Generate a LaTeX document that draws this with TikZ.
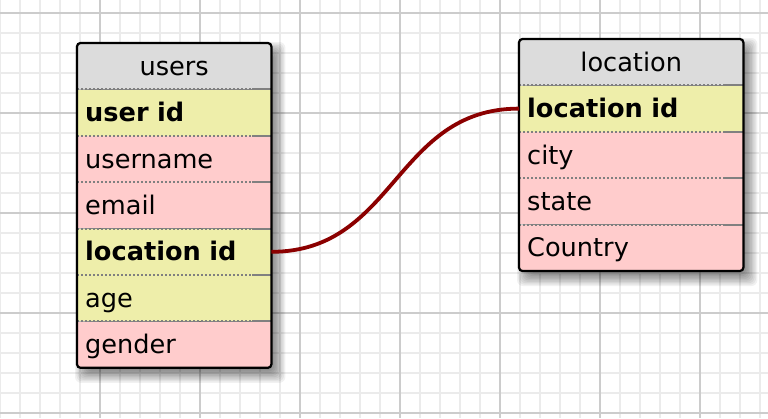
\documentclass[tikz,border=0pt]{standalone}
\usepackage{fontspec}
\setmainfont{DejaVu Sans}
\usetikzlibrary{positioning,backgrounds}
\definecolor{hdrgray}{RGB}{220,220,220}
\definecolor{keyyellow}{RGB}{238,238,170}
\definecolor{fieldpink}{RGB}{255,204,204}
\definecolor{fkred}{RGB}{139,0,0}
\begin{document}
\begin{tikzpicture}[x=1pt,y=-1pt,node distance=0pt,
	cell/.style={rectangle,inner sep=0pt,inner xsep=8pt,text height=32pt,text depth=14pt,font=\fontsize{25.6}{30}\selectfont},
	uwide/.style={text width=178pt},
	lwide/.style={text width=208pt},
	hdr/.style={cell,fill=hdrgray,align=center},
	keyrow/.style={cell,fill=keyyellow,align=left,font=\fontsize{25.6}{30}\selectfont\bfseries},
	fieldrow/.style={cell,fill=fieldpink,align=left},
	dotsep/.style={draw=black!50,line width=2pt,dash pattern=on 2pt off 2pt},
	dashend/.style={draw=black!50,line width=2pt},
	tblborder/.style={draw=black,line width=2.2pt,rounded corners=3.5pt},
	shadowstep/.style={fill=black,opacity=0.055,rounded corners=6pt},
	minorgrid/.style={draw=black!8,line width=2pt},
	majorgrid/.style={draw=black!20,line width=2pt},
	fklink/.style={draw=fkred,line width=3.8pt}]
	\useasboundingbox (0,0) rectangle (768,418);
	\node[hdr,uwide,anchor=north west] (uhead) at (77,43) {users};
	\node[keyrow,uwide,below=of uhead] (uid) {user id};
	\node[fieldrow,uwide,below=of uid] (uname) {username};
	\node[fieldrow,uwide,below=of uname] (uemail) {email};
	\node[keyrow,uwide,below=of uemail] (uloc) {location id};
	\node[keyrow,uwide,below=of uloc,font=\fontsize{25.6}{30}\selectfont] (uage) {age};
	\node[fieldrow,uwide,below=of uage] (ugender) {gender};
	\node[hdr,lwide,anchor=north west] (lhead) at (519,39) {location};
	\node[keyrow,lwide,below=of lhead] (lid) {location id};
	\node[fieldrow,lwide,below=of lid] (lcity) {city};
	\node[fieldrow,lwide,below=of lcity] (lstate) {state};
	\node[fieldrow,lwide,below=of lstate] (lcountry) {Country};
	\begin{scope}[on background layer]
		\fill[white] (0,0) rectangle (768,418);
		\foreach \g in {-0.5,19.5,...,760} \draw[minorgrid] (\g,0) -- (\g,418);
		\foreach \g in {-7.3,12.7,...,418} \draw[minorgrid] (0,\g) -- (768,\g);
		\foreach \g in {99.5,199.5,...,760} \draw[majorgrid] (\g,0) -- (\g,418);
		\foreach \g in {12.7,112.7,...,418} \draw[majorgrid] (0,\g) -- (768,\g);
		\foreach \d in {-6,-4.6,...,8.1} {
			\fill[shadowstep] ([shift={(6-\d,7-\d)}]uhead.north west) rectangle ([shift={(6+\d,7+\d)}]ugender.south east);
			\fill[shadowstep] ([shift={(6-\d,7-\d)}]lhead.north west) rectangle ([shift={(6+\d,7+\d)}]lcountry.south east);
		}
	\end{scope}
	\foreach \r in {uid,uname,uemail,uloc,uage,ugender,lid,lcity,lstate,lcountry}{
		\draw[dotsep] (\r.north west) -- ([xshift=-19pt]\r.north east);
		\draw[dashend] ([xshift=-19pt]\r.north east) -- (\r.north east);
	}
	\draw[tblborder] (uhead.north west) rectangle (ugender.south east);
	\draw[tblborder] (lhead.north west) rectangle (lcountry.south east);
	\draw[fklink] (uloc.east) .. controls +(124,0) and +(-124,0) .. (lid.west);
\end{tikzpicture}
\end{document}
